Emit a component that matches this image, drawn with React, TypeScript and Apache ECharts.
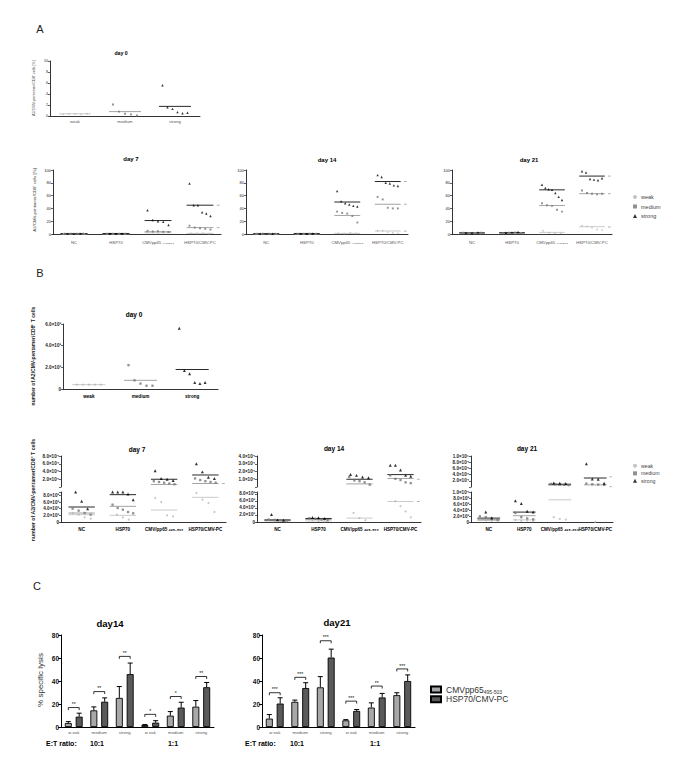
import { useEffect, useRef } from 'react';
import * as echarts from 'echarts';

const FONT = '"Liberation Sans", Arial, Helvetica, sans-serif';
type Num = number | null;

// ---------------- Panel A (% of CD8+) ----------------
const A0_CATS = ['weak', 'medium', 'strong'];
const A0_TICKS = ['0', '2', '4', '6', '8', '10'];
const A0_WEAK = [[0.3, 0.4, 0.4, 0.3, 0.4], [], []];
const A0_MEDIUM = [[], [2.1, 0.8, 0.4, 0.3, 0.1], []];
const A0_STRONG = [[], [], [5.6, 1.6, 1.3, 0.7, 0.5, 0.6]];
const A0_WEAK_MEAN: Num[] = [0.4, null, null];
const A0_MEDIUM_MEAN: Num[] = [null, 0.8, null];
const A0_STRONG_MEAN: Num[] = [null, null, 1.75];

const A_CATS = ['NC', 'HSP70', 'CMVpp65 ₄₉₅₋₅₀₃', 'HSP70/CMV-PC'];
const A_TICKS = ['0', '20', '40', '60', '80', '100'];

const A7_WEAK = [[0.3, 0.2, 0.4, 0.3, 0.2], [0.3, 0.2, 0.3, 0.4], [3, 2.5, 2, 2.5, 3], [1, 0.8, 1.2, 0.5]];
const A7_MEDIUM = [[0.5, 0.4, 0.6, 0.5], [0.6, 0.5, 0.4, 0.5], [5, 4, 4.5, 3.5, 3], [13, 10, 9, 8, 7]];
const A7_STRONG = [[0.6, 0.5, 0.7], [0.8, 0.6, 0.7], [37, 22, 20, 19, 14], [79, 45, 45, 34, 32, 28]];
const A7_WEAK_MEAN: Num[] = [0.3, 0.3, 2, 1];
const A7_MEDIUM_MEAN: Num[] = [0.5, 0.5, 3.6, 10];
const A7_STRONG_MEAN: Num[] = [0.6, 0.7, 21, 45];
const A7_TAILS = [45, 10];

const A14_WEAK = [[0.2, 0.3, 0.2, 0.4, 0.3], [0.2, 0.3, 0.2, 0.3], [1, 0.5, 1.5, 0.8], [5, 5, 3, 2, 1]];
const A14_MEDIUM = [[0.4, 0.5, 0.3, 0.4], [0.5, 0.4, 0.6, 0.4], [35, 33, 32, 28, 18], [58, 54, 41, 40, 40]];
const A14_STRONG = [[0.5, 0.6, 0.4], [0.6, 0.5, 0.7], [67, 51, 48, 46, 44, 43], [92, 89, 80, 79, 76, 75]];
const A14_WEAK_MEAN: Num[] = [0.3, 0.3, 1, 4.7];
const A14_MEDIUM_MEAN: Num[] = [0.4, 0.5, 29, 46.5];
const A14_STRONG_MEAN: Num[] = [0.5, 0.6, 50, 82];
const A14_TAILS = [82, 46.5, 4.5];

const A21_WEAK = [[1.5, 1, 2, 1], [1, 1.5, 1, 2], [5, 2, 1, 1], [13, 12, 10, 7, 6]];
const A21_MEDIUM = [[2, 1.5, 1, 2], [1.5, 2, 2.5, 1], [48, 45, 44, 38, 35], [68, 64, 63, 62, 63]];
const A21_STRONG = [[2, 1.5, 2.5], [2, 2.5, 3], [77, 72, 70, 69, 64, 58, 53], [98, 96, 86, 85, 84, 87]];
const A21_WEAK_MEAN: Num[] = [1.2, 1.2, 2.5, 11.4];
const A21_MEDIUM_MEAN: Num[] = [1.5, 1.5, 44.5, 63];
const A21_STRONG_MEAN: Num[] = [1.8, 2, 69, 90.5];
const A21_TAILS = [90.5, 63, 11];

// ---------------- Panel B (number of cells) ----------------
const B0_CATS = ['weak', 'medium', 'strong'];
const B0_TICKS = ['0', '2.0×10³', '4.0×10³', '6.0×10³'];
const B0_WEAK = [[400, 400, 400, 400, 400], [], []];
const B0_MEDIUM = [[], [2200, 800, 500, 300, 300], []];
const B0_STRONG = [[], [], [5600, 1700, 1400, 600, 500, 600]];
const B0_WEAK_MEAN: Num[] = [400, null, null];
const B0_MEDIUM_MEAN: Num[] = [null, 800, null];
const B0_STRONG_MEAN: Num[] = [null, null, 1800];

const B_CATS = ['NC', 'HSP70', 'CMV/pp65 ₄₉₅₋₅₀₃', 'HSP70/CMV-PC'];
const B_LOW_TICKS = ['0', '2.0×10³', '4.0×10³', '6.0×10³', '8.0×10³', '1.0×10⁴'];

// day 7 — lower segment
const B7_WEAK = [[2700, 2200, 1400, 1000], [2200, 1400, 700], [7200, 6000, 2000, 1700], [8700, 6700, 5700, 3000]];
const B7_MEDIUM = [[4000, 3400, 2700, 2200], [5200, 4200, 3700, 3000, 2600], [], []];
const B7_STRONG = [[9000, 6200, 4000], [9000, 9000, 9000, 8400, 6700], [], []];
const B7_WEAK_MEAN: Num[] = [2200, 2000, 3600, 7400];
const B7_MEDIUM_MEAN: Num[] = [2700, 4700, null, null];
const B7_STRONG_MEAN: Num[] = [4500, 8200, null, null];
// day 7 — upper segment
const B7_TOP_TICKS = ['', '2.0×10⁴', '4.0×10⁴', '6.0×10⁴', '8.0×10⁴'];
const B7_TOP_MEDIUM = [[], [], [15000, 13000, 11000, 9000, 7000], [22000, 18000, 15000, 13000, 11000]];
const B7_TOP_STRONG = [[], [], [42000, 22000, 20000, 17000], [60000, 39000, 25000, 22000]];
const B7_TOP_MEDIUM_MEAN: Num[] = [null, null, 6500, 9000];
const B7_TOP_STRONG_MEAN: Num[] = [null, null, 20000, 31000];
const B7_TOP_TAILS = [9000];

// day 14 — lower segment
const B14_WEAK = [[500, 300, 400, 200], [500, 300, 200], [2600, 1100, 500], [8600, 5900, 4500, 3000, 1300]];
const B14_MEDIUM = [[700, 600, 500, 400], [1100, 900, 700, 500], [], []];
const B14_STRONG = [[2100, 600, 500], [1300, 1200, 1000], [], []];
const B14_WEAK_MEAN: Num[] = [300, 300, 1100, 5800];
const B14_MEDIUM_MEAN: Num[] = [400, 700, null, null];
const B14_STRONG_MEAN: Num[] = [600, 1000, null, null];
const B14_TAILS = [5800];
// day 14 — upper segment
const B14_TOP_TICKS = ['', '1.0×10⁴', '2.0×10⁴', '3.0×10⁴', '4.0×10⁴'];
const B14_TOP_MEDIUM = [[], [], [13000, 8400, 7500, 6000, 3000], [15000, 10500, 9000, 6000, 5000]];
const B14_TOP_STRONG = [[], [], [16000, 15000, 13000, 12000], [28000, 28000, 22000, 15000, 14000]];
const B14_TOP_MEDIUM_MEAN: Num[] = [null, null, 4000, 11000];
const B14_TOP_STRONG_MEAN: Num[] = [null, null, 10000, 16000];
const B14_TOP_TAILS = [10000];

// day 21 — lower segment
const B21_WEAK = [[800, 500, 400, 300], [700, 400, 500, 300], [1600, 1000, 800], [0]];
const B21_MEDIUM = [[1900, 1600, 1300, 800], [3000, 1600, 1200, 900], [], []];
const B21_STRONG = [[3300, 1300], [7100, 6200, 3600, 3300], [], []];
const B21_WEAK_MEAN: Num[] = [500, 700, 7400, null];
const B21_MEDIUM_MEAN: Num[] = [800, 2100, null, null];
const B21_STRONG_MEAN: Num[] = [1300, 3300, null, null];
// day 21 — upper segment
const B21_TOP_TICKS = ['', '2.0×10⁴', '4.0×10⁴', '6.0×10⁴', '8.0×10⁴', '1.0×10⁵'];
const B21_TOP_MEDIUM = [[], [], [10000, 9000, 8000, 7000, 6000], [11000, 9000, 8000, 7000]];
const B21_TOP_STRONG = [[], [], [13000, 12000, 11000], [75000, 26000, 25000, 12000]];
const B21_TOP_MEDIUM_MEAN: Num[] = [null, null, 6000, 7000];
const B21_TOP_STRONG_MEAN: Num[] = [null, null, 9000, 29000];
const B21_TOP_TAILS = [33000, 1000];

// ---------------- Panel C (% specific lysis) ----------------
const C_CATS = ['w eak', 'medium', 'strong', 'w eak', 'medium', 'strong'];
const C_TICKS = ['0', '20', '40', '60', '80'];
const C14_CMV = [3.5, 14.5, 25.3, 1.7, 9.9, 17.7];
const C14_CMV_ERR = [1.2, 3, 9.9, 0.5, 3.5, 5.3];
const C14_PC = [9, 22, 46, 3.8, 16.9, 34.6];
const C14_PC_ERR = [3, 3.3, 9.6, 1.7, 4.6, 4.1];
const C14_SIG_Y = [16.9, 30.8, 61.4, 11, 26.5, 43.9];
const C14_SIG = ['**', '**', '**', '*', '*', '**'];
const C21_CMV = [7.3, 21.9, 34.5, 5.8, 16.9, 27.7];
const C21_CMV_ERR = [3.5, 1.5, 9.3, 0.6, 4.1, 2.1];
const C21_PC = [20.4, 33.9, 60.4, 14, 25.7, 40];
const C21_PC_ERR = [5, 4.6, 7.3, 1.2, 3.5, 5.3];
const C21_SIG_Y = [29.8, 43.2, 75, 22.5, 35.6, 50.5];
const C21_SIG = ['***', '***', '***', '***', '**', '***'];

// ---------------- builders ----------------
function tickLabel(v: number, interval: number, ticks: string[]) {
  const i = v / interval;
  const r = Math.round(i);
  if (Math.abs(i - r) > 1e-6) return '';
  return ticks[r] ?? '';
}

interface DotPlot {
  rect: [number, number, number, number];
  cats: string[];
  max: number;
  interval: number;
  ticks: string[];
  weak: number[][];
  medium: number[][];
  strong: number[][];
  weakMean: Num[];
  mediumMean: Num[];
  strongMean: Num[];
  tails?: number[];
  showX: boolean;
  xFont: number;
  xBold: boolean;
  xColor: string;
  xMargin: number;
  yFont: number;
  yBold: boolean;
  mark: number;
}

const E: number[][] = [[], [], [], []];
const N: Num[] = [null, null, null, null];

function buildOption() {
  const grid: any[] = [];
  const xAxis: any[] = [];
  const yAxis: any[] = [];
  const series: any[] = [];

  const addDot = (p: DotPlot) => {
    const gi = grid.length;
    const xi = xAxis.length;
    const yi = yAxis.length;
    const [left, top, width, height] = p.rect;
    grid.push({ left, top, width, height });
    xAxis.push({
      type: 'category', gridIndex: gi, data: p.cats, boundaryGap: true,
      axisLine: { show: p.showX, lineStyle: { color: '#000', width: 0.8 } },
      axisTick: { show: false },
      axisLabel: {
        show: p.showX, interval: 0, fontSize: p.xFont, fontWeight: p.xBold ? 'bold' : 'normal',
        color: p.xColor, fontFamily: FONT, margin: p.xMargin,
      },
      splitLine: { show: false },
    });
    yAxis.push({
      type: 'value', gridIndex: gi, min: 0, max: p.max, interval: p.interval,
      axisLine: { show: true, lineStyle: { color: '#000', width: 0.8 } },
      axisTick: { show: true, length: 2, lineStyle: { color: '#000', width: 0.6 } },
      axisLabel: {
        fontSize: p.yFont, fontWeight: p.yBold ? 'bold' : 'normal', color: '#222', fontFamily: FONT, margin: 2,
        formatter: (v: number) => tickLabel(v, p.interval, p.ticks),
      },
      splitLine: { show: false },
    });
    const bw = width / p.cats.length;
    const meanSeries = (vals: Num[], color: string) => ({
      type: 'custom', xAxisIndex: xi, yAxisIndex: yi, silent: true, z: 2,
      data: vals.map((v, i) => (v == null ? null : [i, v])).filter((d) => d !== null),
      renderItem: (_params: any, api: any) => {
        const c = api.coord([api.value(0), api.value(1)]);
        const w = api.size([1, 0])[0];
        return {
          type: 'line',
          shape: { x1: c[0] - 0.32 * w, y1: c[1], x2: c[0] + 0.32 * w, y2: c[1] },
          style: { stroke: color, lineWidth: 0.9 },
        };
      },
    });
    const dotSeries = (name: string, vals: number[][], symbol: string, size: number, color: string) => {
      const data: any[] = [];
      vals.forEach((arr, ci) => {
        const n = arr.length;
        const step = n > 1 ? Math.min(6, (bw * 0.5) / (n - 1)) : 0;
        arr.forEach((v, k) => data.push({ value: [ci, v], symbolOffset: [(k - (n - 1) / 2) * step, 0] }));
      });
      return {
        type: 'scatter', name, xAxisIndex: xi, yAxisIndex: yi, data, symbol,
        symbolSize: size, itemStyle: { color }, silent: true, z: 3,
      };
    };
    series.push(meanSeries(p.weakMean, '#c4c4c4'));
    series.push(meanSeries(p.mediumMean, '#9a9a9a'));
    series.push(meanSeries(p.strongMean, '#111'));
    if (p.tails && p.tails.length) {
      const last = p.cats.length - 1;
      series.push({
        type: 'custom', xAxisIndex: xi, yAxisIndex: yi, silent: true, z: 2,
        data: p.tails.map((v) => [last, v]),
        renderItem: (_params: any, api: any) => {
          const c = api.coord([api.value(0), api.value(1)]);
          const w = api.size([1, 0])[0];
          return {
            type: 'line',
            shape: { x1: c[0] + 0.4 * w, y1: c[1], x2: c[0] + 0.47 * w, y2: c[1] },
            style: { stroke: '#aaa', lineWidth: 0.9 },
          };
        },
      });
    }
    series.push(dotSeries('weak', p.weak, 'circle', 1.8 * p.mark, '#b5b5b5'));
    series.push(dotSeries('medium', p.medium, 'rect', 2.1 * p.mark, '#747474'));
    series.push(dotSeries('strong', p.strong, 'triangle', 2.7 * p.mark, '#000'));
  };

  const addBars = (
    rect: [number, number, number, number],
    cmv: number[], cmvErr: number[], pc: number[], pcErr: number[], sigY: number[], sig: string[],
  ) => {
    const gi = grid.length;
    const xi = xAxis.length;
    const yi = yAxis.length;
    const [left, top, width, height] = rect;
    grid.push({ left, top, width, height });
    xAxis.push({
      type: 'category', gridIndex: gi, data: C_CATS, boundaryGap: true,
      axisLine: { show: true, lineStyle: { color: '#000', width: 1 } },
      axisTick: { show: false },
      axisLabel: { interval: 0, fontSize: 4.3, color: '#555', fontFamily: FONT, margin: 3 },
    });
    yAxis.push({
      type: 'value', gridIndex: gi, min: 0, max: 80, interval: 20,
      axisLine: { show: true, lineStyle: { color: '#000', width: 1 } },
      axisTick: { show: true, length: 3, lineStyle: { color: '#000', width: 1 } },
      axisLabel: {
        fontSize: 6.5, fontWeight: 'bold', color: '#111', fontFamily: FONT, margin: 2,
        formatter: (v: number) => tickLabel(v, 20, C_TICKS),
      },
      splitLine: { show: false },
    });
    const BW = 7;
    const GAP = 3.85;
    const off = (BW + GAP) / 2;
    series.push({
      type: 'bar', name: 'CMVpp65', xAxisIndex: xi, yAxisIndex: yi, data: cmv,
      barWidth: BW, barGap: '55%',
      itemStyle: { color: '#a8a8a8', borderColor: '#000', borderWidth: 0.9 }, silent: true,
    });
    series.push({
      type: 'bar', name: 'HSP70/CMV-PC', xAxisIndex: xi, yAxisIndex: yi, data: pc,
      barWidth: BW, barGap: '55%',
      itemStyle: { color: '#5a5a5a', borderColor: '#000', borderWidth: 0.9 }, silent: true,
    });
    const errSeries = (vals: number[], errs: number[], dx: number) => ({
      type: 'custom', xAxisIndex: xi, yAxisIndex: yi, silent: true, z: 5,
      data: vals.map((v, i) => [i, v, errs[i]]),
      renderItem: (_params: any, api: any) => {
        const b = api.coord([api.value(0), api.value(1)]);
        const t = api.coord([api.value(0), api.value(1) + api.value(2)]);
        const x = b[0] + dx;
        const st = { stroke: '#000', lineWidth: 1 };
        return {
          type: 'group',
          children: [
            { type: 'line', shape: { x1: x, y1: b[1], x2: x, y2: t[1] }, style: st },
            { type: 'line', shape: { x1: x - 2.5, y1: t[1], x2: x + 2.5, y2: t[1] }, style: st },
          ],
        };
      },
    });
    series.push(errSeries(cmv, cmvErr, -off));
    series.push(errSeries(pc, pcErr, off));
    series.push({
      type: 'custom', xAxisIndex: xi, yAxisIndex: yi, silent: true, z: 5,
      data: sigY.map((h, i) => [i, h]),
      renderItem: (params: any, api: any) => {
        const c = api.coord([api.value(0), api.value(1)]);
        const x1 = c[0] - off;
        const x2 = c[0] + off;
        return {
          type: 'group',
          children: [
            {
              type: 'polyline',
              shape: { points: [[x1, c[1] + 2.5], [x1, c[1]], [x2, c[1]], [x2, c[1] + 2.5]] },
              style: { stroke: '#000', lineWidth: 0.8, fill: null },
            },
            {
              type: 'text', x: c[0], y: c[1] - 0.8,
              style: {
                text: sig[params.dataIndex], fill: '#000', font: `5px ${FONT}`,
                textAlign: 'center', textVerticalAlign: 'bottom',
              },
            },
          ],
        };
      },
    });
  };

  const aRow = { showX: true, xFont: 4.3, xBold: false, xColor: '#555', xMargin: 6, yFont: 4, yBold: false, mark: 0.9 };
  addDot({
    ...aRow, rect: [50, 61, 150, 55], cats: A0_CATS, max: 10, interval: 2, ticks: A0_TICKS, xMargin: 3, yFont: 3.6,
    weak: A0_WEAK, medium: A0_MEDIUM, strong: A0_STRONG,
    weakMean: A0_WEAK_MEAN, mediumMean: A0_MEDIUM_MEAN, strongMean: A0_STRONG_MEAN,
  });
  addDot({
    ...aRow, rect: [53, 170, 168, 64], cats: A_CATS, max: 100, interval: 20, ticks: A_TICKS,
    weak: A7_WEAK, medium: A7_MEDIUM, strong: A7_STRONG,
    weakMean: A7_WEAK_MEAN, mediumMean: A7_MEDIUM_MEAN, strongMean: A7_STRONG_MEAN, tails: A7_TAILS,
  });
  addDot({
    ...aRow, rect: [246, 170, 162, 64], cats: A_CATS, max: 100, interval: 20, ticks: A_TICKS,
    weak: A14_WEAK, medium: A14_MEDIUM, strong: A14_STRONG,
    weakMean: A14_WEAK_MEAN, mediumMean: A14_MEDIUM_MEAN, strongMean: A14_STRONG_MEAN, tails: A14_TAILS,
  });
  addDot({
    ...aRow, rect: [452, 170, 160, 64], cats: A_CATS, max: 100, interval: 20, ticks: A_TICKS,
    weak: A21_WEAK, medium: A21_MEDIUM, strong: A21_STRONG,
    weakMean: A21_WEAK_MEAN, mediumMean: A21_MEDIUM_MEAN, strongMean: A21_STRONG_MEAN, tails: A21_TAILS,
  });

  const bRow = { showX: true, xFont: 4.6, xBold: true, xColor: '#000', xMargin: 5, yFont: 4.6, yBold: true, mark: 1.1 };
  const bTop = { ...bRow, showX: false };
  addDot({
    ...bRow, rect: [63, 324, 155, 65], cats: B0_CATS, max: 6000, interval: 2000, ticks: B0_TICKS, xMargin: 5,
    weak: B0_WEAK, medium: B0_MEDIUM, strong: B0_STRONG,
    weakMean: B0_WEAK_MEAN, mediumMean: B0_MEDIUM_MEAN, strongMean: B0_STRONG_MEAN,
  });
  // day 7
  addDot({
    ...bTop, rect: [61, 456, 165, 31], cats: B_CATS, max: 80000, interval: 20000, ticks: B7_TOP_TICKS,
    weak: E, medium: B7_TOP_MEDIUM, strong: B7_TOP_STRONG,
    weakMean: N, mediumMean: B7_TOP_MEDIUM_MEAN, strongMean: B7_TOP_STRONG_MEAN, tails: B7_TOP_TAILS,
  });
  addDot({
    ...bRow, rect: [61, 492, 165, 30], cats: B_CATS, max: 9000, interval: 2000, ticks: B_LOW_TICKS,
    weak: B7_WEAK, medium: B7_MEDIUM, strong: B7_STRONG,
    weakMean: B7_WEAK_MEAN, mediumMean: B7_MEDIUM_MEAN, strongMean: B7_STRONG_MEAN,
  });
  // day 14
  addDot({
    ...bTop, rect: [257, 456, 164, 31], cats: B_CATS, max: 40000, interval: 10000, ticks: B14_TOP_TICKS,
    weak: E, medium: B14_TOP_MEDIUM, strong: B14_TOP_STRONG,
    weakMean: N, mediumMean: B14_TOP_MEDIUM_MEAN, strongMean: B14_TOP_STRONG_MEAN, tails: B14_TOP_TAILS,
  });
  addDot({
    ...bRow, rect: [257, 492, 164, 30], cats: B_CATS, max: 8500, interval: 2000, ticks: B_LOW_TICKS,
    weak: B14_WEAK, medium: B14_MEDIUM, strong: B14_STRONG,
    weakMean: B14_WEAK_MEAN, mediumMean: B14_MEDIUM_MEAN, strongMean: B14_STRONG_MEAN, tails: B14_TAILS,
  });
  // day 21
  addDot({
    ...bTop, rect: [471, 456, 142, 31], cats: B_CATS, max: 100000, interval: 20000, ticks: B21_TOP_TICKS,
    weak: E, medium: B21_TOP_MEDIUM, strong: B21_TOP_STRONG,
    weakMean: N, mediumMean: B21_TOP_MEDIUM_MEAN, strongMean: B21_TOP_STRONG_MEAN, tails: B21_TOP_TAILS,
  });
  addDot({
    ...bRow, rect: [471, 492, 142, 30], cats: B_CATS, max: 10000, interval: 2000, ticks: B_LOW_TICKS,
    weak: B21_WEAK, medium: B21_MEDIUM, strong: B21_STRONG,
    weakMean: B21_WEAK_MEAN, mediumMean: B21_MEDIUM_MEAN, strongMean: B21_STRONG_MEAN,
  });

  addBars([61, 635, 153, 92], C14_CMV, C14_CMV_ERR, C14_PC, C14_PC_ERR, C14_SIG_Y, C14_SIG);
  addBars([262, 635, 153, 92], C21_CMV, C21_CMV_ERR, C21_PC, C21_PC_ERR, C21_SIG_Y, C21_SIG);

  const txt = (text: string, x: number, y: number, size: number, opts: any = {}) => ({
    type: 'text', x, y, rotation: opts.rot ?? 0, silent: true,
    style: {
      text, fill: opts.color ?? '#000',
      font: `${opts.bold ? 'bold ' : ''}${size}px ${FONT}`,
      textAlign: opts.align ?? 'center', textVerticalAlign: 'middle',
    },
  });
  const R = Math.PI / 2;
  const graphic = [
    txt('A', 40, 29, 11, { color: '#222' }),
    txt('B', 40, 273, 11, { color: '#222' }),
    txt('C', 37, 586, 11, { color: '#222' }),
    txt('day 0', 121, 53, 5.2, { bold: true }),
    txt('day 7', 131, 159, 6, { bold: true }),
    txt('day 14', 327, 160, 6, { bold: true }),
    txt('day 21', 529, 160, 6, { bold: true }),
    txt('day 0', 134, 314, 6.5, { bold: true }),
    txt('day 7', 137, 449, 6.5, { bold: true }),
    txt('day 14', 334, 448, 6.5, { bold: true }),
    txt('day 21', 527, 448, 6.5, { bold: true }),
    txt('day14', 110, 623, 9.5, { bold: true }),
    txt('day21', 337, 622, 9.5, { bold: true }),
    txt('A2/CMV-pentamer/CD8⁺ cells [%]', 34, 88, 3.8, { rot: R, color: '#444' }),
    txt('A2/CMV-pentamer/CD8⁺ cells [%]', 34, 200, 4.3, { rot: R, color: '#444' }),
    txt('number of A2/CMV-pentamer/CD8⁺ T cells', 33, 356, 5, { rot: R, bold: true, color: '#222' }),
    txt('number of A2/CMV-pentamer/CD8⁺ T cells', 33, 490, 5.2, { rot: R, bold: true, color: '#222' }),
    txt('% specific lysis', 40, 680, 8, { rot: R, color: '#333' }),
    txt('E:T ratio:', 46, 743, 7, { bold: true, align: 'left' }),
    txt('10:1', 97, 743, 7, { bold: true }),
    txt('1:1', 173, 743, 7, { bold: true }),
    txt('E:T ratio:', 245, 743, 7, { bold: true, align: 'left' }),
    txt('10:1', 297, 743, 7, { bold: true }),
    txt('1:1', 375, 743, 7, { bold: true }),
  ];

  const dotLegend = (top: number, size: number, gap: number) => ({
    data: ['weak', 'medium', 'strong'], left: 628, top, orient: 'vertical',
    itemWidth: 4, itemHeight: 4, itemGap: gap, selectedMode: false,
    textStyle: { fontSize: size, color: '#444', fontFamily: FONT, lineHeight: size + 0.5, padding: [0, 0, 0, -1] },
  });

  return {
    animation: false,
    backgroundColor: '#fff',
    textStyle: { fontFamily: FONT },
    grid, xAxis, yAxis, series, graphic,
    legend: [
      dotLegend(189, 5.5, 3.5),
      dotLegend(458, 5.2, 1.8),
      {
        data: ['CMVpp65', 'HSP70/CMV-PC'], left: 425, top: 680, orient: 'vertical',
        itemWidth: 10, itemHeight: 6, itemGap: 0, icon: 'rect', selectedMode: false,
        formatter: (n: string) => (n === 'CMVpp65' ? '{a|CMVpp65}{s|495-503}' : `{a|${n}}`),
        textStyle: {
          color: '#333', fontFamily: FONT,
          rich: {
            a: { fontSize: 8.5, lineHeight: 8, color: '#333', fontFamily: FONT },
            s: { fontSize: 5, lineHeight: 10.5, verticalAlign: 'bottom', color: '#333', fontFamily: FONT },
          },
        },
      },
    ],
  };
}

export default function App() {
  const ref = useRef<HTMLDivElement>(null);
  useEffect(() => {
    if (!ref.current) return;
    const chart = echarts.init(ref.current, undefined, { renderer: 'svg' });
    chart.setOption(buildOption() as any);
    return () => chart.dispose();
  }, []);
  return (
    <div
      ref={ref}
      style={{ position: 'fixed', left: 0, top: 0, width: 685, height: 772, background: '#fff' }}
    />
  );
}
